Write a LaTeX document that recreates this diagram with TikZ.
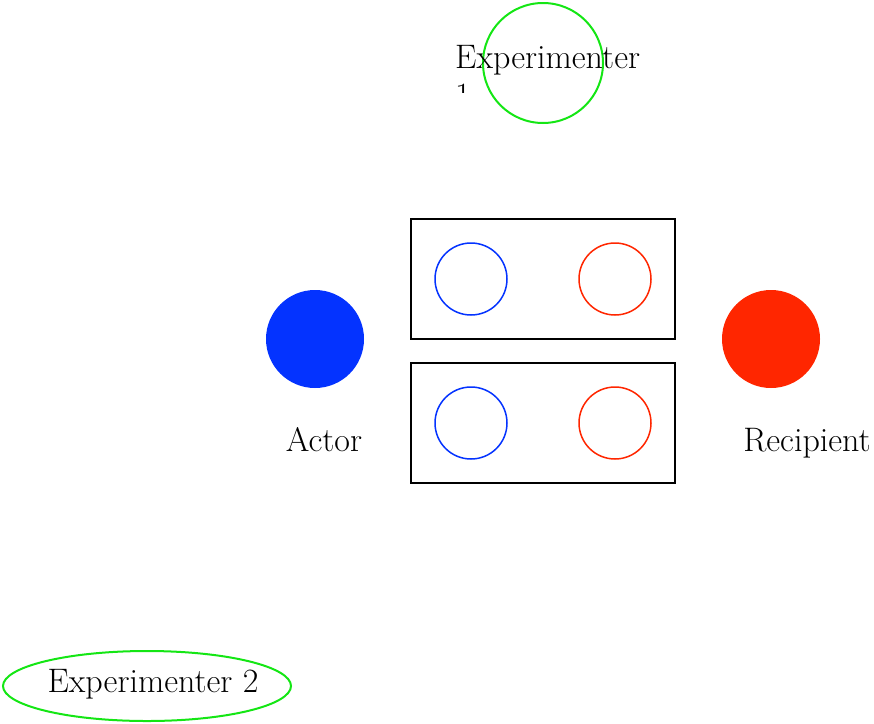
\documentclass[tikz,border=0pt]{standalone}
\usepackage{fontspec}
\usetikzlibrary{shapes.geometric}
\definecolor{egreen}{RGB}{20,230,20}
\definecolor{eblue}{RGB}{4,51,255}
\definecolor{ered}{RGB}{255,38,0}
\tikzset{
  lbl/.style={font=\fontsize{34}{38}\selectfont, inner sep=0pt, text=black},
  tray/.style={draw=black, line width=1.5pt},
  cup/.style={circle, line width=1.5pt, minimum size=72pt, inner sep=0pt},
  agent/.style={circle, minimum size=98pt, inner sep=0pt},
}
\begin{document}
\begin{tikzpicture}[x=1pt,y=-1pt]
\useasboundingbox (0,0) rectangle (874,723);
% Experimenter 1
\node[circle, draw=egreen, line width=2pt, minimum size=120pt, inner sep=0pt] (e1) at (543,63) {};
\begin{scope}
\clip (440,30) rectangle (700,92);
\node[lbl, anchor=base west] (e1t) at (455,68) {\parbox[t]{220pt}{\raggedright Experimenter\\1}};
\end{scope}
% trays
\node[tray, minimum width=264pt, minimum height=120pt, inner sep=0pt] (t1) at (543,279) {};
\node[tray, minimum width=264pt, minimum height=120pt, inner sep=0pt] (t2) at (543,423) {};
\node[cup, draw=eblue] (c1) at (471,279) {};
\node[cup, draw=ered] (c2) at (615,279) {};
\node[cup, draw=eblue] (c3) at (471,423) {};
\node[cup, draw=ered] (c4) at (615,423) {};
% agents
\node[agent, fill=eblue] (actor) at (315,339) {};
\node[agent, fill=ered] (recip) at (771,339) {};
\node[lbl, anchor=base] (actort) at (324,451) {Actor};
\node[lbl, anchor=base] (recipt) at (807,451) {Recipient};
% Experimenter 2
\node[ellipse, draw=egreen, line width=2pt, minimum width=288pt, minimum height=70pt, inner sep=0pt] (e2) at (147,686) {};
\node[lbl, anchor=base] (e2t) at (153,692) {Experimenter 2};
\end{tikzpicture}
\end{document}
